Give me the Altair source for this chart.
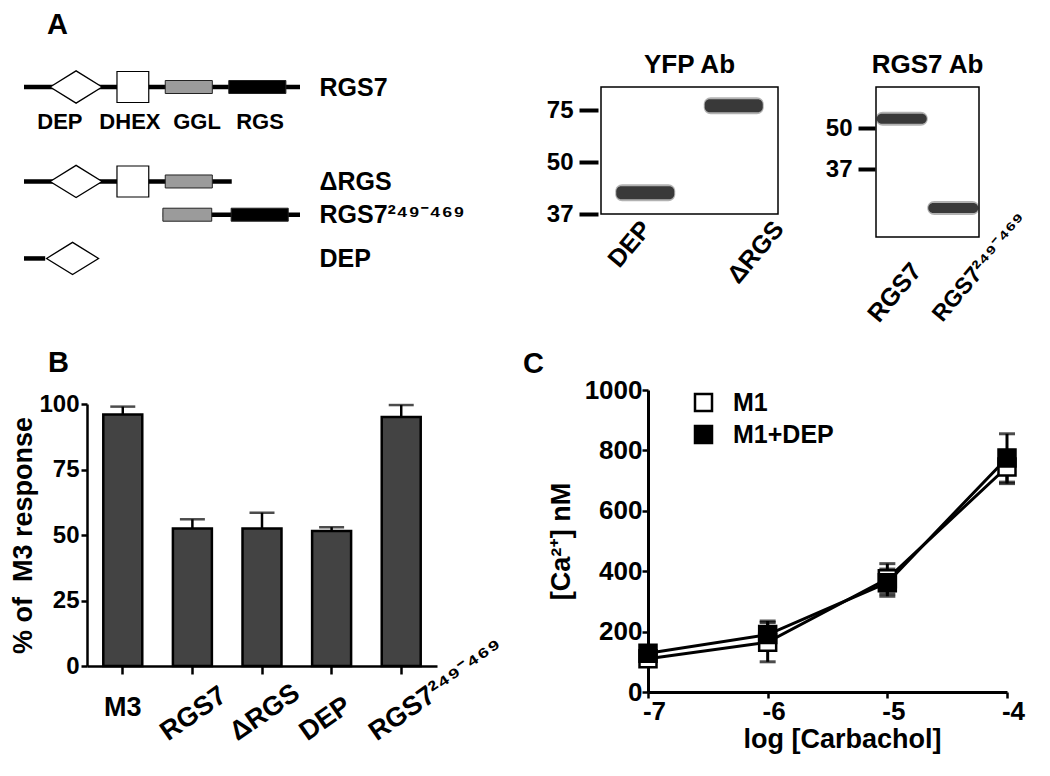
import math
import pandas as pd
import altair as alt

FONT = "Liberation Sans, Noto Sans, DejaVu Sans, sans-serif"

# ---------------- Panel A: domain schematic (sequence positions, aa) ----------------
constructs = ["RGS7", "ΔRGS", "RGS7²⁴⁹⁻⁴⁶⁹", "DEP"]
construct_track = [0.0, 2.7, 3.65, 4.9]
backbone_start = [0, 0, 236, 0]
backbone_end = [469, 353, 469, 36]

dom_construct = ["RGS7", "RGS7", "RGS7", "RGS7", "ΔRGS", "ΔRGS", "ΔRGS",
                 "RGS7²⁴⁹⁻⁴⁶⁹", "RGS7²⁴⁹⁻⁴⁶⁹", "DEP"]
dom_type = ["DEP", "DHEX", "GGL", "RGS", "DEP", "DHEX", "GGL", "GGL", "RGS", "DEP"]
dom_start = [44, 158, 240, 348, 44, 158, 240, 236, 352, 36]
dom_end = [133, 212, 320, 445, 133, 212, 320, 319, 449, 129]

dom_label_names = ["DEP", "DHEX", "GGL", "RGS"]
dom_label_pos = [61, 180, 294, 401]
dom_label_track = [1.0, 1.0, 1.0, 1.0]

# ---------------- Panel A: western blots ----------------
yfp_lanes = ["DEP", "ΔRGS"]
yfp_band_kda = [42.3, 77.0]
yfp_marker_kda = [37, 50, 75]

rgs_lanes = ["RGS7", "RGS7²⁴⁹⁻⁴⁶⁹"]
rgs_band_kda = [52.9, 24.6]
rgs_marker_kda = [37, 50]

# ---------------- Panel B ----------------
b_categories = ["M3", "RGS7", "ΔRGS", "DEP", "RGS7²⁴⁹⁻⁴⁶⁹"]
b_response = [96.0, 52.5, 52.5, 51.5, 95.0]
b_error = [3.0, 3.5, 6.0, 1.5, 4.6]

# ---------------- Panel C ----------------
c_log_carbachol = [-7, -6, -5, -4]
c_series = ["M1", "M1+DEP"]
c_m1 = [110, 165, 375, 745]
c_m1_err = [22, 65, 50, 55]
c_m1dep = [128, 190, 362, 775]
c_m1dep_err = [20, 45, 45, 80]

# ======================================================================
track_of = dict(zip(constructs, construct_track))
bb_df = pd.DataFrame({"construct": constructs, "track": construct_track,
                      "start": backbone_start, "end": backbone_end})
dom_df = pd.DataFrame({"construct": dom_construct, "type": dom_type,
                       "start": dom_start, "end": dom_end})
dom_df["track"] = dom_df["construct"].map(track_of)
lab_df = pd.DataFrame({"name": dom_label_names, "pos": dom_label_pos,
                       "track": dom_label_track})

xs = alt.Scale(domain=[0, 469], nice=False, zero=False, padding=0)
ys = alt.Scale(domain=[0, 5.43], reverse=True, nice=False, zero=False, padding=0)
label_expr = " : ".join(
    f"datum.value == {t} ? '{c}'" for c, t in zip(constructs[:-1], construct_track[:-1])
) + f" : '{constructs[-1]}'"
y_enc = alt.Y("track:Q", scale=ys, axis=alt.Axis(
    orient="right", values=construct_track, labelExpr=label_expr, title=None,
    domain=False, ticks=False, grid=False, labelPadding=19, labelFontSize=25,
    labelAlign="left", labelBaseline="middle", labelOverlap=False, labelFlush=False))

DIAMOND = "M-1,0L0,-0.62L1,0L0,0.62Z"

backbone = alt.Chart(bb_df).mark_rule(strokeWidth=4.5, color="black", strokeCap="butt").encode(
    x=alt.X("start:Q", scale=xs, axis=None), x2="end:Q", y=y_enc)
dhex = alt.Chart(dom_df).transform_filter("datum.type == 'DHEX'").mark_bar(
    size=31, fill="white", stroke="black", strokeWidth=1.2).encode(
    x=alt.X("start:Q", scale=xs, axis=None), x2="end:Q", y=y_enc)
boxes = alt.Chart(dom_df).transform_filter("datum.type == 'GGL' || datum.type == 'RGS'").mark_bar(
    size=13, stroke="#222222", strokeWidth=1).encode(
    x=alt.X("start:Q", scale=xs, axis=None), x2="end:Q", y=y_enc,
    fill=alt.Fill("type:N", scale=alt.Scale(domain=["GGL", "RGS"], range=["#9b9b9b", "#000000"]),
                  legend=None))
diamonds = alt.Chart(dom_df).transform_filter("datum.type == 'DEP'").transform_calculate(
    mid="(datum.start + datum.end) / 2").mark_point(
    shape=DIAMOND, size=2704, filled=True, fill="white", stroke="black", strokeWidth=1.3, opacity=1).encode(
    x=alt.X("mid:Q", scale=xs, axis=None), y=y_enc)
dlabels = alt.Chart(lab_df).mark_text(fontSize=22, fontWeight="bold", align="center",
                                      baseline="middle", color="black").encode(
    x=alt.X("pos:Q", scale=xs, axis=None), y=y_enc, text="name:N")

schematic = alt.layer(backbone, dhex, boxes, diamonds, dlabels).properties(
    width=276, height=190,
    title=alt.TitleParams("A", anchor="start", frame="group", dx=23, dy=35, offset=34,
                          fontSize=29, baseline="bottom"))


def blot(lanes, kda, markers, yscale, height, width, title, tick_size, tick_offset,
         label_align, label_padding, label_offsets, label_sizes, thickness, band_len):
    df = pd.DataFrame({"lane": lanes, "kda": kda})
    test_expr = f"datum.value == '{lanes[1]}'"
    x = alt.X("lane:N", sort=lanes, scale=alt.Scale(paddingInner=0, paddingOuter=0),
              axis=alt.Axis(title=None, labelAngle=310, labelAlign=label_align,
                            labelBaseline="middle", ticks=False, tickSize=0, domain=False,
                            labelPadding=label_padding,
                            labelFontSize={"condition": {"test": test_expr, "value": label_sizes[1]},
                                           "value": label_sizes[0]},
                            labelOffset={"condition": {"test": test_expr, "value": label_offsets[1]},
                                         "value": label_offsets[0]}))
    y = alt.Y("kda:Q", scale=yscale,
              axis=alt.Axis(title=None, values=markers, tickSize=tick_size, tickWidth=4,
                            domain=False, grid=False, offset=tick_offset, labelPadding=6,
                            labelFontSize=24))
    base = alt.Chart(df).encode(x=x, y=y)
    halo = base.mark_tick(orient="horizontal", thickness=thickness + 4, size=band_len + 2,
                          color="#222222", opacity=0.35, cornerRadius=7)
    core = base.mark_tick(orient="horizontal", thickness=thickness, size=band_len,
                          color="#050505", cornerRadius=5)
    return alt.layer(halo, core).properties(
        width=width, height=height,
        view=alt.ViewBackground(stroke="black", strokeWidth=1.5),
        title=alt.TitleParams(title, fontSize=26, anchor="middle", frame="group",
                              offset=4, dy=21, baseline="bottom"))


yfp = blot(yfp_lanes, yfp_band_kda, yfp_marker_kda,
           alt.Scale(domain=[37, 50, 75, 86.06], range=[127, 75, 23, 0], nice=False, zero=False),
           127, 177, "YFP Ab", 19, 3, "right", 10, [1, 45], [25, 25], 13, 58)
rgs7ab = blot(rgs_lanes, rgs_band_kda, rgs_marker_kda,
              alt.Scale(domain=[15.44, 63.0], nice=False, zero=False),
              150, 103, "RGS7 Ab", 17, 1, "left", 81, [-29, -16], [25, 23], 10, 50)

# ---------------- Panel B chart ----------------
b_df = pd.DataFrame({"cat": b_categories, "resp": b_response, "err": b_error})
b_df["hi"] = b_df["resp"] + b_df["err"]
bx = alt.X("cat:N", sort=b_categories,
           scale=alt.Scale(paddingInner=0.44, paddingOuter=0.234),
           axis=alt.Axis(title=None, labels=False, tickSize=8, tickWidth=2.5, domainWidth=2.5))
by = alt.Y("resp:Q", scale=alt.Scale(domain=[0, 100], nice=False),
           axis=alt.Axis(values=[0, 25, 50, 75, 100], tickSize=6, tickWidth=2.5, domainWidth=2.5,
                         labelFontSize=24, labelPadding=2, title="% of\u00a0 M3 response",
                         titleFontSize=27, titlePadding=1, grid=False))
bbase = alt.Chart(b_df)
bars = bbase.mark_bar(fill="#434343", stroke="black", strokeWidth=2.5).encode(x=bx, y=by)
berr = bbase.mark_rule(strokeWidth=2.5, color="black").encode(x=bx, y=by, y2="hi:Q")
bcap = bbase.mark_tick(orient="horizontal", size=25, thickness=2.5, color="black").encode(
    x=bx, y=alt.Y("hi:Q"))


def rot_local(X, Y, angle_deg):
    a = math.radians(angle_deg)
    return (X * math.cos(a) + Y * math.sin(a), -X * math.sin(a) + Y * math.cos(a))


ldx, ldy = rot_local(-29, 69, 325)
lab_m3 = bbase.transform_filter(f"datum.cat == '{b_categories[0]}'").mark_text(
    fontSize=27, fontWeight="bold", align="center", baseline="middle", dy=42, color="black").encode(
    x=bx, y=alt.datum(0), text="cat:N")
lab_rot = bbase.transform_filter(f"datum.cat != '{b_categories[0]}'").mark_text(
    fontSize=27, fontWeight="bold", align="left", baseline="middle", angle=325,
    dx=ldx, dy=ldy, color="black").encode(x=bx, y=alt.datum(0), text="cat:N")

panel_b = alt.layer(bars, berr, bcap, lab_m3, lab_rot).properties(
    width=350, height=262,
    title=alt.TitleParams("B", anchor="start", frame="group", dx=-39, dy=38, offset=23,
                          fontSize=29, baseline="bottom"))

# ---------------- Panel C chart ----------------
c_rows = []
for s, vals, errs in [(c_series[0], c_m1, c_m1_err), (c_series[1], c_m1dep, c_m1dep_err)]:
    for xv, v, e in zip(c_log_carbachol, vals, errs):
        c_rows.append({"series": s, "logc": xv, "ca": v, "lo": v - e, "hi": v + e})
c_df = pd.DataFrame(c_rows)

cx = alt.X("logc:Q", scale=alt.Scale(domain=[-7, -4], nice=False, zero=False),
           axis=alt.Axis(values=c_log_carbachol, labelExpr="'-' + abs(datum.value)",
                         tickSize=6, tickWidth=2.5, domainWidth=3, labelFontSize=26,
                         labelPadding=0, labelOffset=6, title="log [Carbachol]", titleFontSize=27,
                         titlePadding=2, titleX=194, titleAlign="center", grid=False))
cy = alt.Y("ca:Q", scale=alt.Scale(domain=[0, 1000], nice=False),
           axis=alt.Axis(values=[0, 200, 400, 600, 800, 1000], format="d", tickSize=6,
                         tickWidth=2.5, domainWidth=3, labelFontSize=26, labelPadding=0,
                         title="[Ca²⁺] nM", titleFontSize=27, titlePadding=9, grid=False))
cbase = alt.Chart(c_df)
clines = cbase.mark_line(strokeWidth=3, color="black").encode(x=cx, y=cy, detail="series:N")
cerr = cbase.mark_rule(strokeWidth=3, color="black").encode(x=cx, y=alt.Y("lo:Q"), y2="hi:Q")
ccaps = cbase.transform_fold(["lo", "hi"], as_=["k", "v"]).mark_tick(
    orient="horizontal", size=16, thickness=3, color="black").encode(x=cx, y=alt.Y("v:Q"))
cpts = cbase.mark_point(shape="square", size=289, filled=True, stroke="black",
                        strokeWidth=2.5, opacity=1).encode(
    x=cx, y=cy,
    fill=alt.Fill("series:N", scale=alt.Scale(domain=c_series, range=["white", "black"]),
                  legend=alt.Legend(title=None, orient="none", legendX=43, legendY=0,
                                    padding=0, symbolType="square", symbolSize=289,
                                    symbolStrokeColor="black", symbolStrokeWidth=2.5,
                                    labelFontSize=25, labelFontWeight="bold",
                                    labelOffset=17, rowPadding=5)))
panel_c = alt.layer(clines, cerr, ccaps, cpts).properties(
    width=359, height=302,
    title=alt.TitleParams("C", anchor="start", frame="group", dx=-125, dy=38, offset=7,
                          fontSize=29, baseline="bottom"))


def spacer(w, h):
    return alt.Chart(pd.DataFrame({"v": [0]})).mark_point(opacity=0).encode(
        x=alt.value(0), y=alt.value(0)).properties(width=w, height=h)


def wrap(c):
    return alt.hconcat(c, spacing=0, bounds="flush").resolve_scale(
        fill="independent").resolve_legend(fill="independent")


# grid: column lefts 24, 87, 601, 648, 876 ; row tops 86, 389, 403 (page pixels)
cells = [
    wrap(schematic), spacer(514, 303), wrap(yfp), spacer(228, 1), wrap(rgs7ab),
    spacer(63, 14), spacer(1, 1), spacer(47, 1), wrap(panel_c), spacer(1, 1),
    spacer(1, 1), wrap(panel_b),
]

chart = alt.concat(*cells, columns=5, spacing=0, bounds="flush", align="each").resolve_scale(
    fill="independent").resolve_legend(fill="independent").properties(
    padding={"left": 1, "top": 3, "right": 0, "bottom": 8}
).configure(font=FONT).configure_view(strokeWidth=0).configure_axis(
    labelFontWeight="bold", titleFontWeight="bold", labelColor="black", titleColor="black",
    domainColor="black", tickColor="black", grid=False, labelFont=FONT, titleFont=FONT,
    labelFlush=False
).configure_title(font=FONT, fontWeight="bold", color="black").configure_legend(
    labelFont=FONT, labelColor="black")

chart.save("out.html", embed_options={"renderer": "svg", "actions": False})
